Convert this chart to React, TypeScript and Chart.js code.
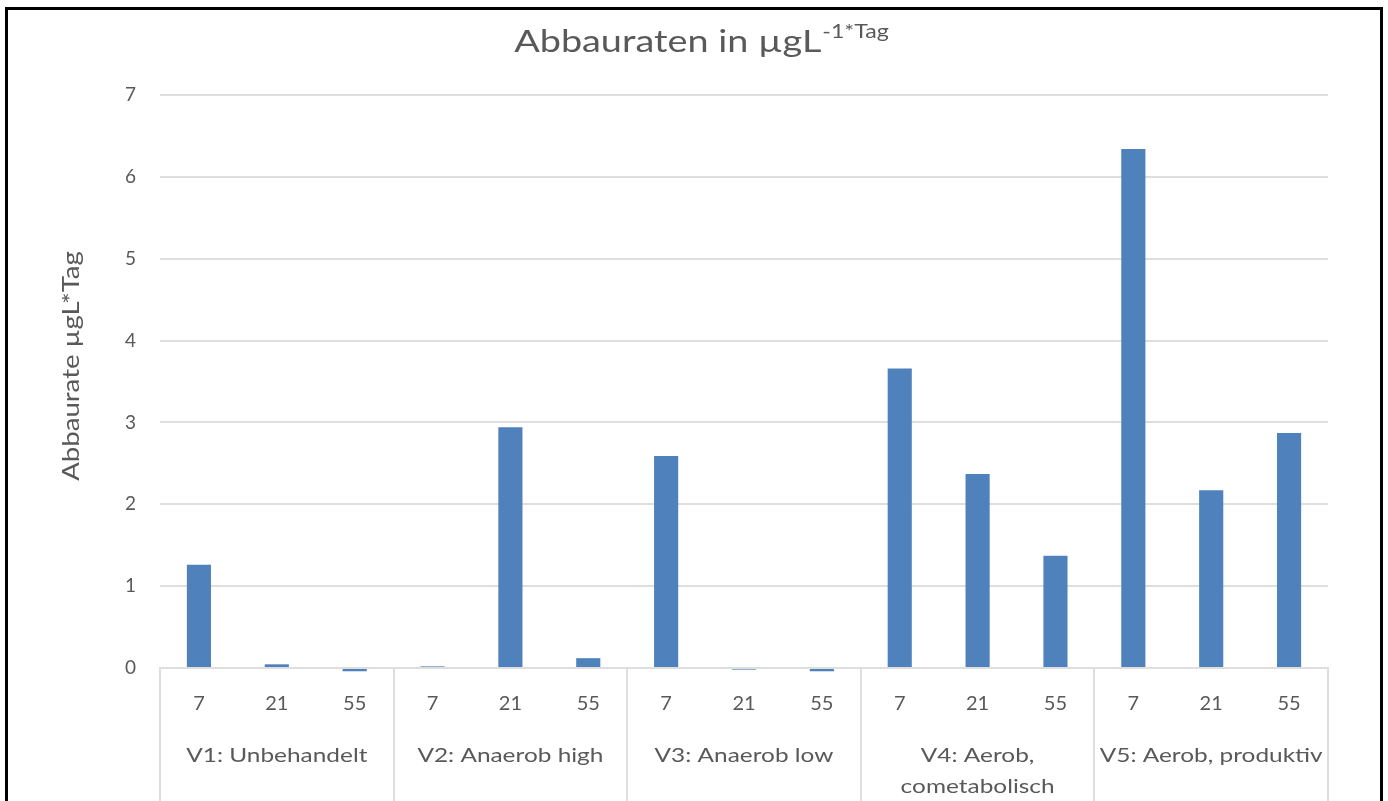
import React, { useEffect, useRef } from "react";
import { Chart, registerables } from "chart.js";

Chart.register(...registerables);

const days = ["7", "21", "55"];
const groups: (string | string[])[] = [
  "V1: Unbehandelt",
  "V2: Anaerob high",
  "V3: Anaerob low",
  ["V4: Aerob,", "cometabolisch"],
  "V5: Aerob, produktiv",
];
const values = [1.26, 0.045, -0.04, 0.02, 2.94, 0.12, 2.59, -0.02, -0.04, 3.66, 2.37, 1.37, 6.34, 2.17, 2.87];
const yTicks = [0, 1, 2, 3, 4, 5, 6, 7];
const titleMain = "Abbauraten in µgL";
const titleSup = "-1*Tag";
const yTitle = "Abbaurate µgL*Tag";

const FONT = "Lato";
const TEXT = "#595959";
const GRID = "#dedede";
const BAR = "#4f81bd";

const labels = groups.flatMap(() => days);

function stretchedText(ctx: CanvasRenderingContext2D, text: string, x: number, y: number, sx: number, align: "left" | "center") {
  ctx.save();
  ctx.translate(x, y);
  ctx.scale(sx, 1);
  ctx.textAlign = align;
  ctx.fillText(text, 0, 0);
  ctx.restore();
}

const overlayPlugin = {
  id: "overlay",
  afterDraw(chart: any) {
    const ctx = chart.ctx as CanvasRenderingContext2D;
    const xs = chart.scales.x;
    const H = chart.height;
    const n = labels.length;
    const w = (xs.right - xs.left) / n;
    ctx.save();
    // group separators
    ctx.strokeStyle = GRID;
    ctx.lineWidth = 2;
    for (let i = 0; i <= groups.length; i++) {
      const px = Math.round(xs.left + i * days.length * w);
      ctx.beginPath();
      ctx.moveTo(px, xs.top);
      ctx.lineTo(px, H);
      ctx.stroke();
    }
    // group labels
    ctx.fillStyle = TEXT;
    ctx.font = `20px ${FONT}`;
    ctx.textBaseline = "middle";
    groups.forEach((g, i) => {
      const cx = xs.left + (i * days.length + days.length / 2) * w;
      const lines = Array.isArray(g) ? g : [g];
      lines.forEach((ln, j) => {
        stretchedText(ctx, ln, cx, 756 + j * 31, 1.22, "center");
      });
    });
    // title
    ctx.textBaseline = "alphabetic";
    const S = 1.22;
    ctx.font = `31px ${FONT}`;
    const w1 = ctx.measureText(titleMain).width * S;
    ctx.font = `19px ${FONT}`;
    const w2 = ctx.measureText(titleSup).width * S;
    const sx = 701 - (w1 + w2) / 2;
    ctx.font = `31px ${FONT}`;
    stretchedText(ctx, titleMain, sx, 52, S, "left");
    ctx.font = `19px ${FONT}`;
    stretchedText(ctx, titleSup, sx + w1 + 1, 38, S, "left");
    // y title
    ctx.translate(79, 366);
    ctx.rotate(-Math.PI / 2);
    ctx.font = `24px ${FONT}`;
    stretchedText(ctx, yTitle, 0, 0, 1.15, "center");
    ctx.restore();
  },
};

export default function App() {
  const ref = useRef<HTMLCanvasElement>(null);
  useEffect(() => {
    if (!ref.current) return;
    const chart = new Chart(ref.current, {
      type: "bar",
      data: {
        labels,
        datasets: [
          {
            data: values,
            backgroundColor: BAR,
            borderWidth: 0,
            barPercentage: 0.31,
            categoryPercentage: 1,
            clip: false as any,
          },
        ],
      },
      options: {
        responsive: false,
        animation: false,
        layout: { padding: { left: 0, right: 60, top: 95, bottom: 0 } },
        plugins: {
          legend: { display: false },
          title: { display: false },
          tooltip: { enabled: false },
        },
        scales: {
          x: {
            afterFit: (s: any) => {
              s.height = 133;
            },
            grid: { display: false, drawTicks: false },
            border: { display: true, color: GRID, width: 2 },
            ticks: {
              color: TEXT,
              font: { family: FONT, size: 20 },
              padding: 24,
              maxRotation: 0,
              autoSkip: false,
            },
          },
          y: {
            min: 0,
            max: 7,
            afterFit: (s: any) => {
              s.width = 160;
            },
            afterBuildTicks: (s: any) => {
              s.ticks = yTicks.map((v) => ({ value: v }));
            },
            grid: { color: GRID, lineWidth: 2, drawTicks: false },
            border: { display: false },
            ticks: {
              color: TEXT,
              font: { family: FONT, size: 19 },
              padding: 24,
            },
          },
        },
      },
      plugins: [overlayPlugin],
    });
    return () => chart.destroy();
  }, []);

  return (
    <div style={{ position: "absolute", left: 0, top: 0, width: 1388, height: 801, overflow: "hidden", background: "#fff" }}>
      <canvas ref={ref} width={1388} height={801} style={{ position: "absolute", left: 0, top: 0 }} />
      <div
        style={{
          position: "absolute",
          left: 5,
          top: 7,
          width: 1378,
          height: 900,
          border: "3px solid #000",
          boxSizing: "border-box",
          pointerEvents: "none",
        }}
      />
    </div>
  );
}
